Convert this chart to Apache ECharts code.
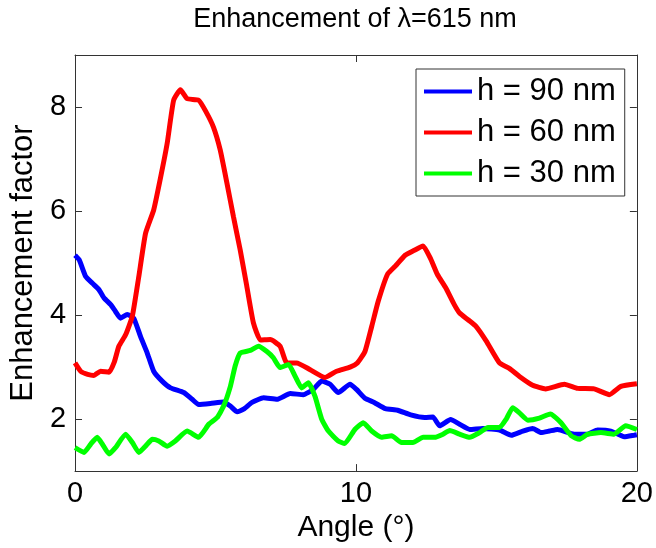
<!DOCTYPE html>
<html>
<head>
<meta charset="utf-8">
<script src="https://cdn.jsdelivr.net/npm/echarts@6/dist/echarts.min.js"></script>
<style>html,body{margin:0;padding:0;background:#fff}#c{width:656px;height:548px}</style>
</head>
<body>
<div id="c"></div>
<script>
const FONT = '"Liberation Sans Narrow", "Liberation Sans", Arial, sans-serif';
const titleText = 'Enhancement of \u03bb=615 nm';
const xName = 'Angle (\u00b0)';
const yName = 'Enhancement factor';
const seriesNames = ['h = 90 nm', 'h = 60 nm', 'h = 30 nm'];
const xTicks = [0, 10, 20];
const yTicks = [2, 4, 6, 8];

const blueX = [0, 0.15, 0.38, 0.62, 0.85, 1.03, 1.27, 1.44, 1.62, 1.86, 2.09, 2.33, 2.57, 2.8, 3.1, 3.4, 3.87, 4.17, 4.4, 4.82, 5.29, 5.53, 5.77, 6.0, 6.3, 6.71, 7.19, 7.66, 8.13, 8.48, 8.78, 9.08, 9.37, 9.79, 10.02, 10.32, 10.65, 11.05, 11.48, 11.95, 12.45, 12.74, 12.98, 13.37, 13.69, 14.05, 14.52, 15.11, 15.53, 15.94, 16.29, 16.59, 16.89, 17.18, 17.77, 18.25, 18.6, 19.07, 19.55, 19.9, 20];
const blueY = [5.15, 5.06, 4.74, 4.61, 4.49, 4.33, 4.20, 4.07, 3.94, 4.01, 3.94, 3.59, 3.27, 2.92, 2.73, 2.60, 2.51, 2.38, 2.28, 2.30, 2.33, 2.25, 2.14, 2.19, 2.32, 2.41, 2.38, 2.49, 2.47, 2.57, 2.73, 2.67, 2.51, 2.67, 2.57, 2.40, 2.32, 2.20, 2.17, 2.08, 2.03, 2.04, 1.87, 1.99, 1.90, 1.80, 1.82, 1.79, 1.69, 1.77, 1.82, 1.74, 1.77, 1.80, 1.71, 1.71, 1.79, 1.77, 1.66, 1.69, 1.70];

const redX = [0, 0.2, 0.45, 0.67, 0.91, 1.21, 1.4, 1.56, 1.8, 2.04, 2.27, 2.51, 2.8, 3.04, 3.28, 3.51, 3.75, 3.99, 4.4, 4.64, 4.93, 5.17, 5.41, 5.64, 5.88, 6.1, 6.35, 6.6, 6.95, 7.3, 7.54, 7.89, 8.37, 8.9, 9.31, 9.79, 10.05, 10.32, 10.56, 10.79, 11.12, 11.4, 11.75, 12.06, 12.39, 12.66, 12.9, 13.2, 13.5, 13.69, 13.99, 14.28, 14.64, 15.11, 15.47, 15.82, 16.29, 16.75, 17.42, 17.89, 18.48, 19.02, 19.43, 20];
const redY = [3.08, 2.92, 2.86, 2.84, 2.92, 2.90, 3.10, 3.40, 3.62, 3.98, 4.74, 5.57, 6.02, 6.63, 7.30, 8.13, 8.33, 8.16, 8.13, 7.93, 7.61, 7.17, 6.53, 5.89, 5.25, 4.60, 3.85, 3.52, 3.53, 3.40, 3.08, 3.08, 2.95, 2.80, 2.92, 3.00, 3.08, 3.30, 3.78, 4.26, 4.78, 4.94, 5.15, 5.24, 5.33, 5.08, 4.78, 4.52, 4.20, 4.04, 3.91, 3.78, 3.50, 3.08, 2.97, 2.82, 2.65, 2.58, 2.67, 2.59, 2.58, 2.47, 2.63, 2.68];

const greenX = [0, 0.32, 0.56, 0.79, 0.97, 1.21, 1.44, 1.8, 2.04, 2.27, 2.51, 2.75, 2.98, 3.28, 3.57, 3.99, 4.4, 4.76, 5.06, 5.29, 5.53, 5.7, 5.88, 6.24, 6.53, 6.83, 7.06, 7.3, 7.6, 7.83, 8.07, 8.31, 8.54, 8.78, 9.02, 9.37, 9.6, 9.96, 10.26, 10.56, 10.91, 11.27, 11.62, 12.03, 12.39, 12.8, 13.1, 13.34, 13.69, 14.05, 14.4, 14.7, 15.11, 15.35, 15.58, 15.82, 16.12, 16.53, 16.92, 17.3, 17.66, 17.95, 18.25, 18.72, 19.19, 19.6, 20];
const greenY = [1.45, 1.36, 1.52, 1.65, 1.52, 1.33, 1.45, 1.71, 1.55, 1.36, 1.48, 1.61, 1.58, 1.48, 1.58, 1.77, 1.65, 1.90, 2.03, 2.25, 2.63, 3.02, 3.27, 3.32, 3.40, 3.30, 3.18, 2.99, 3.05, 2.83, 2.60, 2.70, 2.44, 2.00, 1.77, 1.58, 1.53, 1.80, 1.93, 1.77, 1.65, 1.68, 1.55, 1.55, 1.65, 1.65, 1.71, 1.78, 1.71, 1.65, 1.74, 1.84, 1.84, 2.00, 2.22, 2.12, 1.98, 2.02, 2.10, 1.93, 1.68, 1.61, 1.71, 1.74, 1.71, 1.87, 1.80];

const colors = ['#0000ff', '#ff0000', '#00ff00'];
const zip = (xs, ys) => xs.map((x, i) => [x, ys[i]]);
const seriesData = [zip(blueX, blueY), zip(redX, redY), zip(greenX, greenY)];

const AXC = '#333333';
const tickStyle = { show: true, inside: true, length: 7, lineStyle: { color: AXC, width: 1 } };
const lbl = { color: '#000', fontFamily: FONT, fontSize: 29 };

const chart = echarts.init(document.getElementById('c'), null, { renderer: 'canvas' });
chart.setOption({
  animation: false,
  backgroundColor: '#ffffff',
  title: {
    text: titleText, left: 355, top: 6, textAlign: 'center', padding: 0,
    textStyle: { fontFamily: FONT, fontSize: 27, fontWeight: 'normal', color: '#000' }
  },
  grid: { left: 74, right: 18, top: 55, bottom: 76, containLabel: false },
  legend: {
    orient: 'vertical', left: 416, top: 69, padding: [7, 9, 7, 8],
    itemWidth: 48, itemHeight: 12, itemGap: 10,
    backgroundColor: '#fff', borderColor: AXC, borderWidth: 1, borderRadius: 0,
    textStyle: { fontFamily: FONT, fontSize: 31, color: '#000', lineHeight: 30, padding: [0, 0, 0, 0] },
    icon: 'path://M0,0 L48,0 L48,4 L0,4 Z',
    data: seriesNames
  },
  xAxis: [{
    type: 'value', min: xTicks[0], max: xTicks[2], interval: 10, position: 'bottom',
    name: xName, nameLocation: 'middle', nameGap: 36,
    nameTextStyle: { fontFamily: FONT, fontSize: 30, color: '#000' },
    axisLine: { show: true, lineStyle: { color: AXC, width: 1 } },
    axisTick: tickStyle, splitLine: { show: false },
    axisLabel: Object.assign({ margin: 8 }, lbl)
  }, {
    type: 'value', min: xTicks[0], max: xTicks[2], interval: 10, position: 'top',
    axisLine: { show: true, onZero: false, lineStyle: { color: AXC, width: 1 } },
    axisTick: tickStyle, splitLine: { show: false }, axisLabel: { show: false }
  }],
  yAxis: [{
    type: 'value', min: 1, max: 9, position: 'left',
    name: yName, nameLocation: 'middle', nameGap: 31, nameRotate: 90,
    nameTextStyle: { fontFamily: FONT, fontSize: 31, color: '#000' },
    axisLine: { show: true, lineStyle: { color: AXC, width: 1 } },
    axisTick: Object.assign({ customValues: yTicks }, tickStyle), splitLine: { show: false },
    axisLabel: Object.assign({ margin: 9, customValues: yTicks }, lbl)
  }, {
    type: 'value', min: 1, max: 9, position: 'right',
    axisLine: { show: true, onZero: false, lineStyle: { color: AXC, width: 1 } },
    axisTick: Object.assign({ customValues: yTicks }, tickStyle), splitLine: { show: false },
    axisLabel: { show: false }
  }],
  series: seriesNames.map((n, i) => ({
    name: n, type: 'line', data: seriesData[i], xAxisIndex: 0, yAxisIndex: 0,
    showSymbol: false, symbol: 'none', smooth: 0.15,
    lineStyle: { color: colors[i], width: 5 }, itemStyle: { color: colors[i] }
  }))
});
</script>
</body>
</html>
